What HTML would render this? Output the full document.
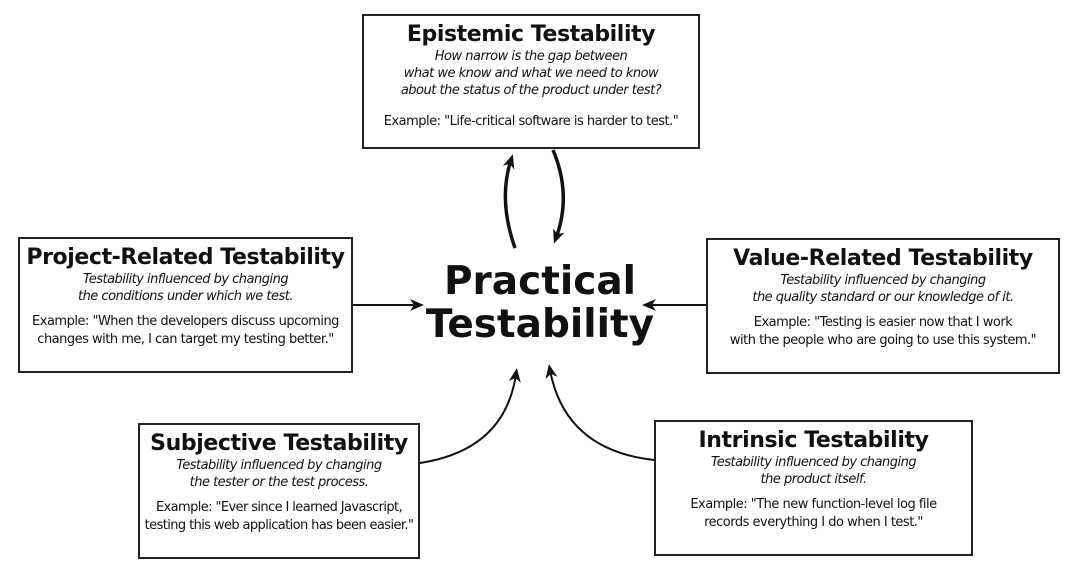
<!DOCTYPE html>
<html><head><meta charset="utf-8"><style>
body{margin:0;width:1080px;height:575px;background:#fff;position:relative;overflow:hidden;font-family:"DejaVu Sans","Liberation Sans",sans-serif;color:#111}
.b{position:absolute;border:2px solid #222;box-sizing:border-box;text-align:center;background:#fff;white-space:nowrap}
.t{font-weight:bold;font-size:22px;letter-spacing:-0.4px;margin-top:5px;line-height:27px}
.i{font-style:italic;font-size:13px;line-height:17px;letter-spacing:-0.5px}
.e{font-size:13px;line-height:18px;margin-top:8px;letter-spacing:-0.5px}
.c{position:absolute;left:410px;top:260px;width:260px;text-align:center;font-weight:bold;font-size:39px;line-height:43px}
</style></head><body>
<div class="b" style="left:362px;top:14px;width:338px;height:135px">
<div class="t">Epistemic Testability</div>
<div class="i">How narrow is the gap between<br>what we know and what we need to know<br>about the status of the product under test?</div>
<div class="e" style="margin-top:14px">Example: "Life-critical software is harder to test."</div></div>
<div class="b" style="left:18px;top:237px;width:335px;height:136px">
<div class="t">Project-Related Testability</div>
<div class="i">Testability influenced by changing<br>the conditions under which we test.</div>
<div class="e">Example: "When the developers discuss upcoming<br>changes with me, I can target my testing better."</div></div>
<div class="b" style="left:706px;top:238px;width:354px;height:136px">
<div class="t">Value-Related Testability</div>
<div class="i">Testability influenced by changing<br>the quality standard or our knowledge of it.</div>
<div class="e">Example: "Testing is easier now that I work<br>with the people who are going to use this system."</div></div>
<div class="b" style="left:138px;top:423px;width:282px;height:136px">
<div class="t">Subjective Testability</div>
<div class="i">Testability influenced by changing<br>the tester or the test process.</div>
<div class="e" style="letter-spacing:-0.6px">Example: "Ever since I learned Javascript,<br>testing this web application has been easier."</div></div>
<div class="b" style="left:654px;top:420px;width:319px;height:136px">
<div class="t">Intrinsic Testability</div>
<div class="i">Testability influenced by changing<br>the product itself.</div>
<div class="e">Example: "The new function-level log file<br>records everything I do when I test."</div></div>
<div class="c">Practical<br>Testability</div>
<svg width="1080" height="575" style="position:absolute;left:0;top:0">
<defs><marker id="a" markerWidth="14" markerHeight="14" refX="8" refY="7" orient="auto" markerUnits="userSpaceOnUse" viewBox="0 0 14 14"><path d="M0,1 L14,7 L0,13 L4,7Z" fill="#111"/></marker></defs>
<g stroke="#111" stroke-width="3" fill="none">
<path d="M515,248 Q498,200 511,160" marker-end="url(#a)" stroke-width="3.5"/>
<path d="M553,150 Q572,195 556,238" marker-end="url(#a)" stroke-width="3.5"/>
<path d="M353,305 L418,305" marker-end="url(#a)" stroke-width="2"/>
<path d="M706,305 L648,305" marker-end="url(#a)" stroke-width="2"/>
<path d="M420,463 Q505,450 516,374" marker-end="url(#a)" stroke-width="2"/>
<path d="M654,460 Q565,450 550,370" marker-end="url(#a)" stroke-width="2"/>
</g></svg>
</body></html>
